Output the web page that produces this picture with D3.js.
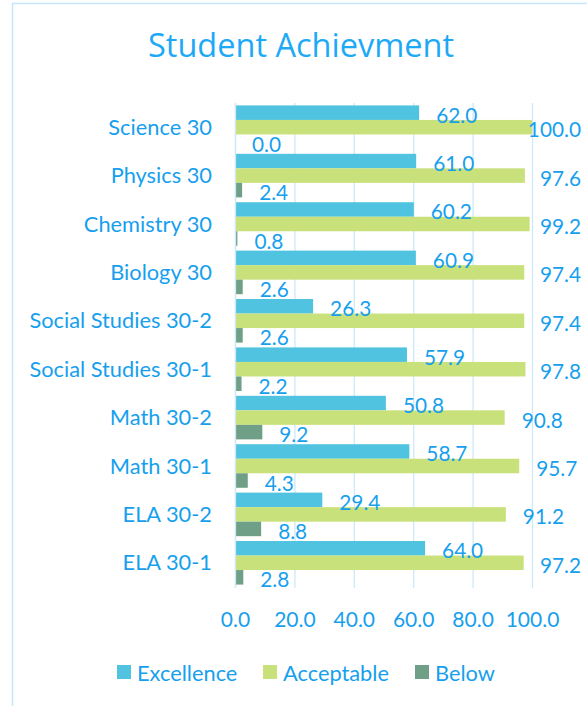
<!DOCTYPE html>
<html>
<head>
<meta charset="utf-8">
<script src="https://cdn.jsdelivr.net/npm/d3@7"></script>
<style>
  html, body { margin: 0; padding: 0; background: #fff; }
  svg { display: block; }
  text { font-family: Lato, "Noto Sans", sans-serif; }
</style>
</head>
<body>
<svg id="chart" width="587" height="706"></svg>
<script>
const categories = ["Science 30", "Physics 30", "Chemistry 30", "Biology 30", "Social Studies 30-2",
  "Social Studies 30-1", "Math 30-2", "Math 30-1", "ELA 30-2", "ELA 30-1"];
const seriesNames = ["Excellence", "Acceptable", "Below"];
const excellence = [62.0, 61.0, 60.2, 60.9, 26.3, 57.9, 50.8, 58.7, 29.4, 64.0];
const acceptable = [100.0, 97.6, 99.2, 97.4, 97.4, 97.8, 90.8, 95.7, 91.2, 97.2];
const below = [0.0, 2.4, 0.8, 2.6, 2.6, 2.2, 9.2, 4.3, 8.8, 2.8];
const xTicks = [0, 20, 40, 60, 80, 100];
const title = "Student Achievment";

const colors = ["#4FC3DF", "#C9E17A", "#6F9F87"];
const textColor = "#179FEE";

const svg = d3.select("#chart");

// outer frame
svg.append("rect").attr("x", 12.5).attr("y", 3.5).attr("width", 620).attr("height", 730)
  .attr("fill", "none").attr("stroke", "#C8E8FA").attr("stroke-width", 1.5);

svg.append("text").attr("x", 301).attr("y", 57).attr("text-anchor", "middle")
  .attr("font-size", 32.5).attr("fill", "#1EA9F6")
  .style("font-family", "'Open Sans', Lato, sans-serif").text(title);

const x = d3.scaleLinear().domain([0, 100]).range([235, 532]);
const y = d3.scaleBand().domain(categories).range([103, 587]).paddingInner(0.1).paddingOuter(0.05);
const ySub = d3.scaleBand().domain(seriesNames).range([0, y.bandwidth()]);

// gridlines
svg.append("g").selectAll("line").data(xTicks).join("line")
  .attr("x1", d => x(d) + 0.5).attr("x2", d => x(d) + 0.5)
  .attr("y1", 103).attr("y2", 588)
  .attr("stroke", "#CDE9F8").attr("stroke-width", 1.3);

const data = categories.map((c, i) => ({
  cat: c, vals: [excellence[i], acceptable[i], below[i]]
}));

const groups = svg.append("g").selectAll("g").data(data).join("g")
  .attr("transform", d => `translate(0,${y(d.cat)})`);

groups.selectAll("rect").data(d => d.vals.map((v, j) => ({ v, s: seriesNames[j], j })))
  .join("rect")
  .attr("x", x(0))
  .attr("y", d => ySub(d.s))
  .attr("width", d => x(d.v) - x(0))
  .attr("height", ySub.bandwidth())
  .attr("fill", d => colors[d.j]);

// axis line at 0
svg.append("line").attr("x1", x(0) + 0.5).attr("x2", x(0) + 0.5).attr("y1", 103).attr("y2", 588)
  .attr("stroke", "#CDE9F8").attr("stroke-width", 1.3);

// data labels
groups.selectAll("text.lbl").data(d => d.vals.map((v, j) => ({ v, s: seriesNames[j], j })))
  .join("text").attr("class", "lbl")
  .attr("font-size", 20.8).attr("fill", textColor)
  .attr("dominant-baseline", "central")
  .attr("y", d => ySub(d.s) + ySub.bandwidth() / 2 + 1.5)
  .text(d => d.v.toFixed(1))
  .each(function (d) {
    const w = this.getComputedTextLength();
    let xx = x(d.v) + 17;
    if (xx + w > 581) xx = 581 - w;
    d3.select(this).attr("x", xx);
  });

// category labels
svg.append("g").selectAll("text").data(categories).join("text")
  .attr("x", 212).attr("y", d => y(d) + y.bandwidth() / 2 - 1)
  .attr("text-anchor", "end").attr("dominant-baseline", "central")
  .attr("font-size", 21.8).attr("fill", textColor).text(d => d);

// x axis tick labels
svg.append("g").selectAll("text").data(xTicks).join("text")
  .attr("x", d => x(d) + 0.5).attr("y", 618)
  .attr("text-anchor", "middle").attr("dominant-baseline", "central")
  .attr("font-size", 21).attr("fill", textColor).text(d => d.toFixed(1));

// legend
const legendX = [117, 263, 415];
const lg = svg.append("g").selectAll("g").data(seriesNames).join("g")
  .attr("transform", (d, i) => `translate(${legendX[i]},665)`);
lg.append("rect").attr("width", 14).attr("height", 14).attr("fill", (d, i) => colors[i]);
lg.append("text").attr("x", 20).attr("y", 7.5).attr("dominant-baseline", "central")
  .attr("font-size", 21.8).attr("fill", textColor).text(d => d);
</script>
</body>
</html>
